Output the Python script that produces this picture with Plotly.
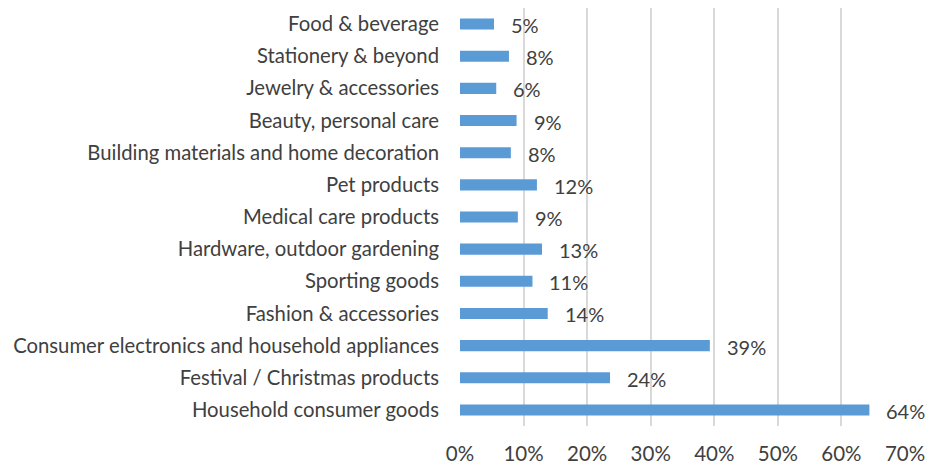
import plotly.graph_objects as go

# Product categories, listed top to bottom
categories = [
    "Food & beverage",
    "Stationery & beyond",
    "Jewelry & accessories",
    "Beauty, personal care",
    "Building materials and home decoration",
    "Pet products",
    "Medical care products",
    "Hardware, outdoor gardening",
    "Sporting goods",
    "Fashion & accessories",
    "Consumer electronics and household appliances",
    "Festival / Christmas products",
    "Household consumer goods",
]

# Share of respondents per category
shares = [
    0.0535, 0.077, 0.057, 0.089, 0.080, 0.121, 0.091,
    0.129, 0.114, 0.138, 0.393, 0.236, 0.644,
]

x_ticks = [0, 0.1, 0.2, 0.3, 0.4, 0.5, 0.6, 0.7]
x_tick_labels = ["0%", "10%", "20%", "30%", "40%", "50%", "60%", "70%"]

FONT = "Lato"
TEXT_COLOR = "#404040"
GRID_COLOR = "#d9d9d9"
BAR_COLOR = "#5b9bd5"

fig = go.Figure(
    go.Bar(
        x=shares,
        y=categories,
        orientation="h",
        marker=dict(color=BAR_COLOR, line=dict(width=0)),
        width=0.345,
        hoverinfo="skip",
    )
)

# Value labels placed just past each bar end
for cat, val in zip(categories, shares):
    fig.add_annotation(
        x=val,
        y=cat,
        text=f"{val:.0%}",
        xanchor="left",
        yanchor="middle",
        xshift=15,
        yshift=-1,
        showarrow=False,
        font=dict(family=FONT, size=20, color=TEXT_COLOR),
    )

fig.update_layout(
    width=926,
    height=464,
    margin=dict(l=460, r=21, t=8, b=38),
    paper_bgcolor="white",
    plot_bgcolor="white",
    showlegend=False,
    font=dict(family=FONT, size=20, color=TEXT_COLOR),
    xaxis=dict(
        range=[0, 0.7],
        tickvals=x_ticks,
        ticktext=x_tick_labels,
        showgrid=True,
        gridcolor=GRID_COLOR,
        gridwidth=1.5,
        zeroline=False,
        showline=False,
        ticks="",
        automargin=False,
        ticklabelstandoff=13,
        tickfont=dict(family=FONT, size=20.5, color=TEXT_COLOR),
        fixedrange=True,
    ),
    yaxis=dict(
        autorange="reversed",
        showgrid=False,
        zeroline=False,
        showline=False,
        ticks="",
        automargin=False,
        ticklabelstandoff=20,
        tickfont=dict(family=FONT, size=20.3, color=TEXT_COLOR),
        fixedrange=True,
    ),
)

fig.write_html("out.html")
